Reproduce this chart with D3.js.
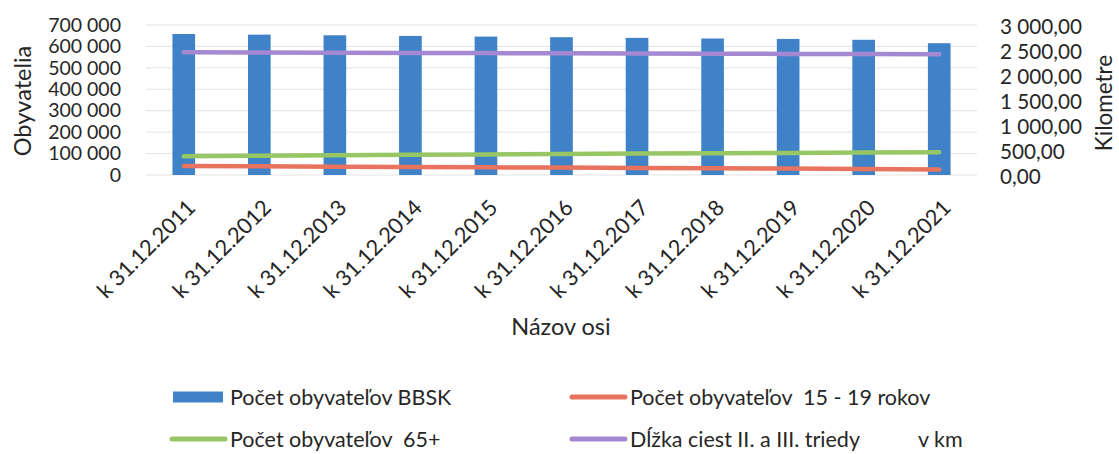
<!DOCTYPE html>
<html><head><meta charset="utf-8">
<script src="https://cdn.jsdelivr.net/npm/d3@7"></script>
<style>
body{margin:0;background:#fff;}
svg{display:block;font-family:Lato,"Open Sans",sans-serif;}
</style></head>
<body><svg id="c" width="1119" height="454"></svg>
<script>
const categories = ["k 31.12.2011","k 31.12.2012","k 31.12.2013","k 31.12.2014","k 31.12.2015","k 31.12.2016","k 31.12.2017","k 31.12.2018","k 31.12.2019","k 31.12.2020","k 31.12.2021"];
const populationBBSK = [658000,655000,652000,649000,646000,643000,640000,637000,635000,631000,615000];
const pop15to19 = [42000,40500,39000,37500,36000,34500,33000,31500,30000,28500,26000];
const pop65plus = [88000,90000,92000,94000,96000,98000,100000,101500,103000,104500,106000];
const roadKm = [2455,2450,2446,2442,2438,2434,2430,2426,2422,2418,2414];
const leftTicks = [0,100000,200000,300000,400000,500000,600000,700000];
const rightTicks = [0,500,1000,1500,2000,2500,3000];
const seriesNames = ["Počet obyvateľov BBSK","Počet obyvateľov  15 - 19 rokov","Počet obyvateľov  65+","Dĺžka ciest II. a III. triedy|v km"];

const svg = d3.select("#c");
const L = 146, R = 977, T = 25, B = 175;
const x = d3.scaleBand().domain(categories).range([L, R]).paddingInner(0.7).paddingOuter(0.35);
const yL = d3.scaleLinear().domain([0,700000]).range([B,T]);
const yR = d3.scaleLinear().domain([0,3000]).range([B,T]);
const fmtL = d => d3.format(",")(d).replace(/,/g," ");
const fmtR = d => d3.format(",.2f")(d).replace(/,/g," ").replace(".",",");
const txt = "#262626";
const colors = {bar:"#4082c7", red:"#e8735e", green:"#97c765", purple:"#a488d2"};

// grid
svg.append("g").selectAll("line").data(leftTicks).join("line")
  .attr("x1",L).attr("x2",R).attr("y1",d=>yL(d)).attr("y2",d=>yL(d))
  .attr("stroke","#e3e3e3").attr("stroke-width",1);

// left axis
const gl = svg.append("g").attr("transform",`translate(${L-22},0)`)
  .call(d3.axisLeft(yL).tickValues(leftTicks).tickFormat(fmtL).tickSize(0));
gl.select(".domain").remove();
gl.selectAll("text").attr("font-size",19.5).attr("fill",txt).attr("font-family","Lato");

// right axis
const gr = svg.append("g").attr("transform",`translate(${R+23},1.5)`)
  .call(d3.axisRight(yR).tickValues(rightTicks).tickFormat(fmtR).tickSize(0));
gr.select(".domain").remove();
gr.selectAll("text").attr("font-size",20.7).attr("fill",txt).attr("x",0).attr("font-family","Lato");

// bars
svg.append("g").selectAll("rect").data(populationBBSK).join("rect")
  .attr("x",(d,i)=>x(categories[i])).attr("width",x.bandwidth())
  .attr("y",d=>yL(d)).attr("height",d=>B-yL(d)).attr("fill",colors.bar);

// lines
const cx = i => x(categories[i]) + x.bandwidth()/2;
function drawLine(vals, scale, col){
  svg.append("path").datum(vals)
    .attr("d", d3.line().x((d,i)=>cx(i)).y(d=>scale(d)))
    .attr("fill","none").attr("stroke",col).attr("stroke-width",4.5).attr("stroke-linecap","round");
}
drawLine(pop15to19, yL, colors.red);
drawLine(pop65plus, yL, colors.green);
drawLine(roadKm, yR, colors.purple);

// x axis labels
const gx = svg.append("g").attr("transform",`translate(0,${B})`)
  .call(d3.axisBottom(x).tickSize(0));
gx.select(".domain").remove();
gx.selectAll("text").attr("font-size",21.8).attr("fill",txt).attr("font-family","Lato")
  .attr("text-anchor","end").attr("dy",0).attr("y",0)
  .attr("transform","translate(13,34) rotate(-45)");

// axis titles
svg.append("text").attr("transform","translate(31,101) rotate(-90)").attr("text-anchor","middle")
  .attr("font-size",23.5).attr("fill",txt).text("Obyvatelia");
svg.append("text").attr("transform","translate(1112,103) rotate(-90)").attr("text-anchor","middle")
  .attr("font-size",22.5).attr("fill",txt).text("Kilometre");
svg.append("text").attr("x",561).attr("y",335).attr("text-anchor","middle")
  .attr("font-size",23.5).attr("fill",txt).text("Názov osi");

// legend
const leg = [
  {name:seriesNames[0], type:"rect", col:colors.bar, x:173, y:397},
  {name:seriesNames[1], type:"line", col:colors.red, x:572, y:397},
  {name:seriesNames[2], type:"line", col:colors.green, x:172, y:439},
  {name:seriesNames[3], type:"line", col:colors.purple, x:572, y:439}
];
const lg = svg.append("g").selectAll("g").data(leg).join("g").attr("transform",d=>`translate(${d.x},${d.y})`);
lg.filter(d=>d.type==="rect").append("rect").attr("x",0).attr("y",-5.5).attr("width",50).attr("height",11).attr("fill",d=>d.col);
lg.filter(d=>d.type==="line").append("line").attr("x1",0).attr("x2",53).attr("y1",0).attr("y2",0)
  .attr("stroke",d=>d.col).attr("stroke-width",5).attr("stroke-linecap","round");
const lt = lg.append("text").attr("x",d=>d.type==="rect"?57:58).attr("y",0).attr("dy","0.35em").attr("font-size",21.5).attr("fill",txt)
  .style("white-space","pre");
lt.each(function(d){
  const parts = d.name.split("|");
  const t = d3.select(this);
  t.append("tspan").text(parts[0]);
  if(parts[1]) t.append("tspan").attr("x",346).text(parts[1]);
});
</script></body></html>
